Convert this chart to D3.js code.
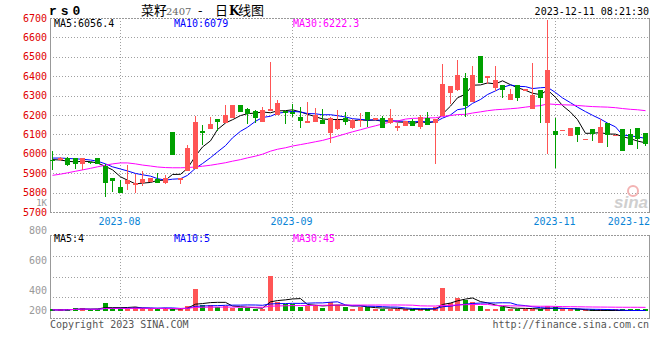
<!DOCTYPE html>
<html><head><meta charset="utf-8">
<script src="https://cdn.jsdelivr.net/npm/d3@7"></script>
<style>body{margin:0;background:#fff}svg{display:block}</style>
</head><body>
<svg id="c" width="660" height="360"></svg>
<script>
// ---- data ----
const opens  = [5970,5966,5979,5979,5948,5958,5979,5935,5876,5828,5842,5837,5850,5856,5871,5849,6110,5866,5911,5923,6115,6130,6180,6159,6185,6250,6233,6222,6165,6221,6200,6221,6215,6191,6160,6165,6175,6109,6126,6187,6132,6168,6213,6174,6187,6157,6134,6145,6170,6140,6187,6157,6196,6315,6327,6389,6268,6503,6389,6341,6353,6278,6353,6324,6233,6329,6157,6116,6119,6093,6136,6073,6127,6056,6157,6092,6127,6102,6133,6107];
const highs  = [6012,5985,5986,5980,5980,5960,5979,5945,5876,5866,5940,5897,5911,5877,5902,5892,6110,5876,6046,6194,6149,6189,6181,6252,6253,6252,6234,6224,6243,6475,6277,6222,6257,6242,6268,6235,6231,6188,6227,6218,6178,6210,6215,6186,6196,6233,6157,6169,6179,6200,6217,6180,6461,6352,6486,6418,6452,6504,6402,6452,6355,6333,6355,6335,6466,6330,6691,6187,6123,6134,6137,6078,6128,6179,6158,6098,6128,6127,6134,6108];
const lows   = [5915,5964,5936,5923,5918,5950,5945,5775,5804,5799,5815,5797,5835,5854,5849,5845,5993,5842,5910,5920,6046,6130,6120,6158,6184,6215,6155,6160,6164,6220,6199,6154,6188,6135,6159,6164,6152,6054,6125,6148,6130,6140,6136,6172,6133,6156,6115,6144,6145,6128,6150,5945,6195,6259,6326,6191,6267,6366,6362,6324,6290,6277,6273,6322,6232,6157,5999,5927,6118,6092,6063,6072,6068,6055,6034,6090,6012,6046,6025,6039];
const closes = [5965,5980,5940,5945,5979,5953,5945,5852,5858,5799,5866,5850,5871,5876,5849,5876,5995,5875,6031,6166,6108,6154,6166,6200,6250,6215,6203,6183,6226,6231,6263,6209,6205,6171,6171,6200,6152,6187,6175,6165,6175,6172,6174,6184,6133,6184,6145,6167,6145,6190,6150,6179,6360,6350,6404,6247,6407,6367,6401,6379,6327,6307,6290,6333,6304,6290,6430,6098,6122,6133,6098,6076,6102,6136,6098,6095,6013,6047,6076,6051];
const volumes = [15,10,20,38,38,12,20,105,38,38,21,50,38,21,21,38,15,38,63,277,76,76,54,63,42,38,38,29,29,445,117,84,84,54,67,76,38,117,76,54,29,54,46,29,29,29,29,12,12,29,29,46,294,105,168,139,117,63,29,29,54,29,29,21,21,29,63,46,8,10,7,5,6,7,5,3,5,4,4,4];
// moving-average values at the start of the window (their history lies before the chart)
const ma5Head  = [5970,5968,5962,5958];
const ma10Head = [5978,5978,5976,5974,5972,5968,5962,5948,5933];
const ma30Head = [5889,5895,5902,5910,5917,5925,5933,5941,5948,5953,5953,5948,5942,5937,5932,5929,5928,5928,5929,5932,5936,5941,5947,5954,5962,5970,5979,5988,5998];
const priceTicks = [5700,5800,5900,6000,6100,6200,6300,6400,6500,6600,6700];
const volTicks = [200,400,600,800];
const monthLabels = ["2023-08","2023-09","2023-11","2023-12"];
const monthIdx = [9,32,67,79];
const maNames = ["MA5","MA10","MA30"];
const maPriceText = ["6056.4","6079","6222.3"];
const maVolText = ["4","5","45"];

// ---- layout ----
const L=50,R=650,PT=18,PB=212,VT=235,VB=318,VBASE=311;
const N=closes.length;
const RED="#ff5555",GREEN="#00a000",GRID="#a0a0a0",BORDER="#999";
const MAC=["#000","#0000ff","#ff00ff"];
const MONO="'DejaVu Sans Mono', monospace";

const svg=d3.select("#c");
const x=d3.scaleBand().domain(d3.range(N)).range([L,R]);
const bl=i=>Math.round(x(i));
const cx=i=>bl(i)+2.5;
const y=d3.scaleLinear().domain([5700,6700]).range([PB,PT]);
const yv=d3.scaleLinear().domain([0,960]).range([VBASE,VT]);
const yvl=d3.scaleLinear().domain([200,800]).range([320,230]);

function movAvg(arr,n,head){
  return arr.map((v,i)=>{
    if(i<n-1){ if(head) return head[i]; return d3.mean(arr.slice(0,i+1));}
    return d3.mean(arr.slice(i-n+1,i+1));
  });
}
const pma=[movAvg(closes,5,ma5Head),movAvg(closes,10,ma10Head),movAvg(closes,30,ma30Head)];
const vma=[movAvg(volumes,5),movAvg(volumes,10),movAvg(volumes,30)];

// ---- grids & borders ----
const g=svg.append("g");
function hline(yy,dash,col){g.append("line").attr("x1",L).attr("x2",R).attr("y1",Math.round(yy)+0.5).attr("y2",Math.round(yy)+0.5).attr("stroke",col).attr("stroke-dasharray",dash);}
function vline(xx,y1,y2,dash,col){g.append("line").attr("x1",Math.round(xx)+0.5).attr("x2",Math.round(xx)+0.5).attr("y1",y1).attr("y2",y2).attr("stroke",col).attr("stroke-dasharray",dash);}
priceTicks.slice(1,-1).forEach(t=>hline(y(t),"1,2",GRID));
[1,2,3].forEach(k=>hline(VT+k*(VB-VT)/4,"1,2",GRID));
monthIdx.slice(0,3).forEach(i=>{vline(cx(i)-1,PT,PB,"1,2",GRID);vline(cx(i)-1,VT,VB,"1,2",GRID);});
[[PT,PB],[VT,VB]].forEach(([a,b])=>{
  hline(a,"2,1",BORDER); hline(b,"2,1",BORDER);
  vline(L,a,b+1,null,BORDER); vline(R-1,a,b+1,null,BORDER);
});

// watermark
const wm=svg.append("g");
wm.append("circle").attr("cx",633).attr("cy",191).attr("r",5).attr("fill","none").attr("stroke","#f3b3b3").attr("stroke-width",2);
wm.append("text").attr("x",648).attr("y",208).attr("text-anchor","end").attr("font-family","'Liberation Sans',sans-serif").attr("font-style","italic").attr("font-weight","bold").attr("font-size",17).attr("fill","#cfcfcf").text("sina");

// ---- MA lines (price) ----
const lineP=d3.line().x((d,i)=>cx(i)).y(d=>y(d));
pma.forEach((s,k)=>svg.append("path").attr("d",lineP(s)).attr("fill","none").attr("stroke",MAC[k]).attr("stroke-width",1));

// ---- candles ----
const cg=svg.append("g").attr("shape-rendering","crispEdges");
d3.range(N).forEach(i=>{
  const up=closes[i]>=opens[i], col=up?RED:GREEN;
  cg.append("rect").attr("x",bl(i)+2).attr("width",1).attr("y",y(highs[i])).attr("height",Math.max(1,y(lows[i])-y(highs[i]))).attr("fill",col);
  const top=y(Math.max(opens[i],closes[i])), bot=y(Math.min(opens[i],closes[i]));
  cg.append("rect").attr("x",bl(i)).attr("width",5).attr("y",top).attr("height",Math.max(1,bot-top)).attr("fill",col);
});

// ---- volume ----
const vg=svg.append("g").attr("shape-rendering","crispEdges");
d3.range(N).forEach(i=>{
  const col=closes[i]>=opens[i]?RED:GREEN;
  const top=Math.min(yv(volumes[i]),VBASE-2);
  vg.append("rect").attr("x",bl(i)).attr("width",5).attr("y",top).attr("height",VBASE-top).attr("fill",col);
});
const lineV=d3.line().x((d,i)=>cx(i)).y(d=>Math.min(yv(d),VBASE-0.5));
vma.forEach((s,k)=>svg.append("path").attr("d",lineV(s)).attr("fill","none").attr("stroke",MAC[k]).attr("stroke-width",1));

// ---- texts ----
const t=svg.append("g").attr("font-family",MONO).attr("font-size",10);
priceTicks.forEach(v=>t.append("text").attr("x",47).attr("y",y(v)+3.5).attr("text-anchor","end").attr("fill","#e00000").text(v));
t.append("text").attr("x",47).attr("y",205.5).attr("text-anchor","end").attr("font-size",9).attr("fill","#999").text("1K");
volTicks.forEach(v=>t.append("text").attr("x",47).attr("y",Math.min(yvl(v),310)+3.5).attr("text-anchor","end").attr("fill","#999").text(v));
monthLabels.forEach((m,k)=>{
  const last=k===monthLabels.length-1;
  t.append("text").attr("x",last?R:cx(monthIdx[k])-1).attr("y",225).attr("text-anchor",last?"end":"middle").attr("fill","#0a84d6").text(m);
});
const maX=[54,174,293];
maNames.forEach((n,k)=>{
  t.append("text").attr("x",maX[k]).attr("y",27).attr("fill",MAC[k]).text(n+":"+maPriceText[k]);
  t.append("text").attr("x",maX[k]).attr("y",241.5).attr("fill",MAC[k]).text(n+":"+maVolText[k]);
});
t.append("text").attr("x",649).attr("y",15).attr("text-anchor","end").attr("fill","#000").text("2023-12-11 08:21:30");
t.append("text").attr("x",50).attr("y",328).attr("fill","#555").text("Copyright 2023 SINA.COM");
t.append("text").attr("x",649).attr("y",328).attr("text-anchor","end").attr("fill","#555").text("http://finance.sina.com.cn");
svg.append("text").attr("x",49).attr("y",15).attr("font-family","'Liberation Mono',monospace").attr("font-weight","bold").attr("font-size",13).attr("letter-spacing","4px").attr("fill","#000").text("rs0");
const title=svg.append("text").attr("y",15).attr("font-family","'Noto Sans CJK SC',sans-serif").attr("font-size",13).attr("fill","#000");
title.append("tspan").attr("x",141).text("菜籽");
title.append("tspan").attr("x",166).attr("font-family","'DejaVu Serif',serif").attr("font-size",10).attr("fill","#666").text("2407");
title.append("tspan").attr("x",198).text("-");
title.append("tspan").attr("x",215).text("日");
title.append("tspan").attr("x",229).attr("font-family","'DejaVu Serif',serif").attr("font-weight","bold").attr("font-size",12).text("K");
title.append("tspan").attr("x",238).text("线图");
</script>
</body></html>
